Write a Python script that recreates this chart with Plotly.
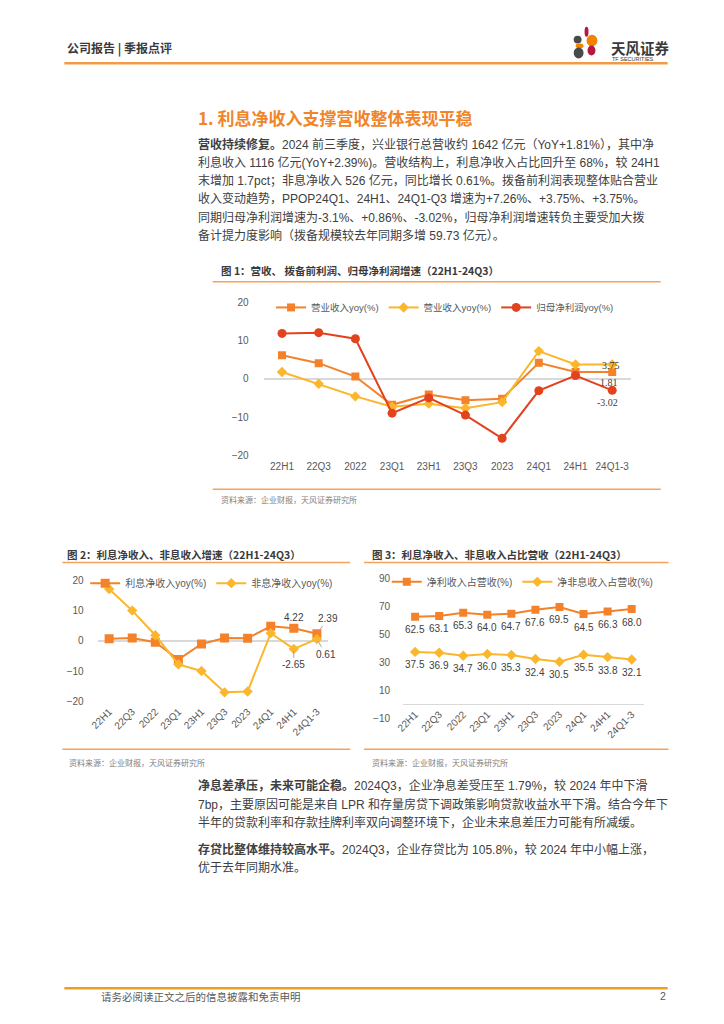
import plotly.graph_objects as go

W, H = 724, 1024
def px(x): return x / W
def py(y): return 1 - y / H

# ---------------- data ----------------
cats = ["22H1", "22Q3", "2022", "23Q1", "23H1", "23Q3", "2023", "24Q1", "24H1", "24Q1-3"]
# chart 1
rev_yoy = [6.2, 4.1, 0.6, -6.8, -4.1, -5.6, -5.2, 4.2, 1.81, 1.81]
ppop_yoy = [1.8, -1.3, -4.6, -7.3, -6.5, -7.7, -6.1, 7.26, 3.75, 3.75]
np_yoy = [11.9, 12.1, 10.5, -9.0, -5.0, -9.5, -15.6, -3.1, 0.86, -3.02]
c1_names = ["营业收入yoy(%)", "营业收入yoy(%)", "归母净利润yoy(%)"]
# chart 2
nii_yoy = [0.7, 1.0, -0.4, -6.2, -1.0, 1.0, 0.9, 4.9, 4.22, 2.39]
nonii_yoy = [17.3, 10.1, 1.9, -7.8, -10.0, -17.1, -16.8, 2.6, -2.65, 0.61]
c2_names = ["利息净收入yoy(%)", "非息净收入yoy(%)"]
# chart 3
nii_share = [62.5, 63.1, 65.3, 64.0, 64.7, 67.6, 69.5, 64.5, 66.3, 68.0]
nonii_share = [37.5, 36.9, 34.7, 36.0, 35.3, 32.4, 30.5, 35.5, 33.8, 32.1]
c3_names = ["净利收入占营收(%)", "净非息收入占营收(%)"]

ticks_c12 = [-20, -10, 0, 10, 20]
ticks_c3 = [-10, 10, 30, 50, 70, 90]

ORANGE = "#F4822A"
YELLOW = "#FBB62B"
RED = "#E2431E"
FRAME = "#F5A25D"
TXT = "#404040"
TICK = "#595959"
SANS = "Liberation Sans, Noto Sans CJK SC"
CJK = "Noto Sans CJK SC"
BODY = "Liberation Sans, Noto Sans CJK SC"

fig = go.Figure()

# ---------------- chart 1 ----------------
fig.add_trace(go.Scatter(x=cats, y=rev_yoy, name=c1_names[0], mode="lines+markers",
                         line=dict(color=ORANGE, width=2), marker=dict(symbol="square", size=8, color=ORANGE),
                         xaxis="x", yaxis="y", legend="legend"))
fig.add_trace(go.Scatter(x=cats, y=ppop_yoy, name=c1_names[1], mode="lines+markers",
                         line=dict(color=YELLOW, width=2), marker=dict(symbol="diamond", size=8, color=YELLOW),
                         xaxis="x", yaxis="y", legend="legend"))
fig.add_trace(go.Scatter(x=cats, y=np_yoy, name=c1_names[2], mode="lines+markers",
                         line=dict(color=RED, width=2), marker=dict(symbol="circle", size=9, color=RED),
                         xaxis="x", yaxis="y", legend="legend"))

# ---------------- chart 2 ----------------
fig.add_trace(go.Scatter(x=cats, y=nii_yoy, name=c2_names[0], mode="lines+markers",
                         line=dict(color=ORANGE, width=2), marker=dict(symbol="square", size=9, color=ORANGE),
                         xaxis="x2", yaxis="y2", legend="legend2"))
fig.add_trace(go.Scatter(x=cats, y=nonii_yoy, name=c2_names[1], mode="lines+markers",
                         line=dict(color=YELLOW, width=2), marker=dict(symbol="diamond", size=8, color=YELLOW),
                         xaxis="x2", yaxis="y2", legend="legend2"))

# ---------------- chart 3 ----------------
fig.add_trace(go.Scatter(x=cats, y=nii_share, name=c3_names[0], mode="lines+markers",
                         line=dict(color=ORANGE, width=2), marker=dict(symbol="square", size=8, color=ORANGE),
                         xaxis="x3", yaxis="y3", legend="legend3"))
fig.add_trace(go.Scatter(x=cats, y=nonii_share, name=c3_names[1], mode="lines+markers",
                         line=dict(color=YELLOW, width=2), marker=dict(symbol="diamond", size=8, color=YELLOW),
                         xaxis="x3", yaxis="y3", legend="legend3"))

tickfont = dict(size=10, color=TICK, family=SANS)
common_x = dict(type="category", categoryorder="array", categoryarray=cats, range=[-0.5, 9.5],
                showgrid=False, zeroline=False, showline=False, ticks="", tickfont=tickfont, fixedrange=True)
common_y = dict(showgrid=False, zeroline=True, zerolinecolor="#D9D9D9", zerolinewidth=1.5,
                showline=False, ticks="", tickfont=tickfont, fixedrange=True)

annotations = []
shapes = []

def text(x, y, s, size=12, color=TXT, family=CJK, anchor="left", yanchor="middle"):
    annotations.append(dict(x=px(x), y=py(y), xref="paper", yref="paper", text=s, showarrow=False,
                            xanchor=anchor, yanchor=yanchor, font=dict(size=size, color=color, family=family)))

def hline(x0, x1, y, color=FRAME, width=1.5):
    shapes.append(dict(type="line", xref="paper", yref="paper", x0=px(x0), x1=px(x1), y0=py(y), y1=py(y),
                       line=dict(color=color, width=width)))

# chart 1 data labels (last category, index 9)
lab1 = dict(size=10, color=TXT, family="Liberation Serif")
annotations.append(dict(x=9, y=ppop_yoy[9], xref="x", yref="y", text=f"{ppop_yoy[9]:.2f}",
                        showarrow=False, xshift=-1, yshift=-1, font=lab1))
annotations.append(dict(x=9, y=rev_yoy[9], xref="x", yref="y", text=f"{rev_yoy[9]:.2f}",
                        showarrow=False, xshift=-3, yshift=-11, font=lab1))
annotations.append(dict(x=9, y=np_yoy[9], xref="x", yref="y", text=f"{np_yoy[9]:.2f}",
                        showarrow=False, xshift=-5, yshift=-12, font=lab1))
# chart 2 data labels
lab2 = dict(size=10, color=TXT, family=SANS)
annotations.append(dict(x=8, y=nii_yoy[8], xref="x2", yref="y2", text=f"{nii_yoy[8]:.2f}",
                        showarrow=False, yshift=11, font=lab2))
annotations.append(dict(x=9, y=nii_yoy[9], xref="x2", yref="y2", text=f"{nii_yoy[9]:.2f}",
                        showarrow=True, arrowhead=0, arrowwidth=1, arrowcolor="#A6A6A6", ax=11, ay=-15,
                        standoff=3, font=lab2))
annotations.append(dict(x=8, y=nonii_yoy[8], xref="x2", yref="y2", text=f"{nonii_yoy[8]:.2f}",
                        showarrow=True, arrowhead=0, arrowwidth=1, arrowcolor="#A6A6A6", ax=0, ay=16,
                        standoff=2, font=lab2))
annotations.append(dict(x=9, y=nonii_yoy[9], xref="x2", yref="y2", text=f"{nonii_yoy[9]:.2f}",
                        showarrow=True, arrowhead=0, arrowwidth=1, arrowcolor="#A6A6A6", ax=9, ay=15,
                        standoff=2, font=lab2))
# chart 3 data labels (below each point)
for i, v in enumerate(nii_share):
    annotations.append(dict(x=i, y=v, xref="x3", yref="y3", text=f"{v:.1f}", showarrow=False,
                            yshift=-13, font=lab2))
for i, v in enumerate(nonii_share):
    annotations.append(dict(x=i, y=v, xref="x3", yref="y3", text=f"{v:.1f}", showarrow=False,
                            yshift=-13, font=lab2))

# ---------------- page furniture ----------------
text(58, 43, "<b>公司报告 | 季报点评</b>", size=12, color="#3A3A3A")
hline(57, 667, 58, color="#F39A46", width=2.5)
text(608, 42, "<b>天风证券</b>", size=14.5, color="#3A3A3A")
text(609, 53.5, "TF SECURITIES", size=5.5, color="#3A3A3A", family="Liberation Sans")
# logo petals
petals = [
    (583, 587, 21, 31, "#B5173F"),
    (585, 596, 29, 41, "#F08300"),
    (572, 580, 30, 38, "#4A4A4A"),
    (574, 582, 38, 43, "#F08300"),
    (586, 594, 40, 50, "#B5173F"),
    (572, 582, 42, 53, "#4A4A4A"),
]
for x0, x1, y0, y1, c in petals:
    shapes.append(dict(type="circle", xref="paper", yref="paper", x0=px(x0), x1=px(x1), y0=py(y1), y1=py(y0),
                       fillcolor=c, line=dict(width=0)))

text(190, 113, "<b>1. 利息净收入支撑营收整体表现平稳</b>", size=17, color="#F0852A")

para1 = [
    "<b>营收持续修复。</b>2024 前三季度，兴业银行总营收约 1642 亿元（YoY+1.81%），其中净",
    "利息收入 1116 亿元(YoY+2.39%)。营收结构上，利息净收入占比回升至 68%，较 24H1",
    "末增加 1.7pct；非息净收入 526 亿元，同比增长 0.61%。拨备前利润表现整体贴合营业",
    "收入变动趋势，PPOP24Q1、24H1、24Q1-Q3 增速为+7.26%、+3.75%、+3.75%。",
    "同期归母净利润增速为-3.1%、+0.86%、-3.02%，归母净利润增速转负主要受加大拨",
    "备计提力度影响（拨备规模较去年同期多增 59.73 亿元）。",
]
for i, s in enumerate(para1):
    text(190, 140 + i * 18.4, s, size=12, family=BODY)

# chart 1 frame
text(213, 268, "<b>图 1：营收、 拨备前利润、归母净利润增速（22H1-24Q3）</b>", size=10.5, color="#3A3A3A")
hline(207, 660, 279)
hline(207, 660, 489)
text(213, 499, "资料来源：企业财报，天风证券研究所", size=8, color="#7F7F7F")

# chart 2 / 3 frames
text(58, 555, "<b>图 2：利息净收入、非息收入增速（22H1-24Q3）</b>", size=10.5, color="#3A3A3A")
hline(55, 346, 563)
hline(55, 346, 752)
text(60, 765, "资料来源：企业财报，天风证券研究所", size=8, color="#7F7F7F")
text(366, 555, "<b>图 3：利息净收入、非息收入占比营收（22H1-24Q3）</b>", size=10.5, color="#3A3A3A")
hline(360, 668, 563)
hline(360, 668, 752)
text(366, 765, "资料来源：企业财报，天风证券研究所", size=8, color="#7F7F7F")

para2 = [
    "<b>净息差承压，未来可能企稳。</b>2024Q3，企业净息差受压至 1.79%，较 2024 年中下滑",
    "7bp，主要原因可能是来自 LPR 和存量房贷下调政策影响贷款收益水平下滑。结合今年下",
    "半年的贷款利率和存款挂牌利率双向调整环境下，企业未来息差压力可能有所减缓。",
]
for i, s in enumerate(para2):
    text(190, 789 + i * 18.8, s, size=12, family=BODY)
para3 = [
    "<b>存贷比整体维持较高水平。</b>2024Q3，企业存贷比为 105.8%，较 2024 年中小幅上涨，",
    "优于去年同期水准。",
]
for i, s in enumerate(para3):
    text(190, 853 + i * 18.8, s, size=12, family=BODY)

hline(57, 667, 994, color="#EE9F22", width=2.5)
text(92, 1002, "请务必阅读正文之后的信息披露和免责申明", size=10.5, color="#595959")
text(667, 1002, "2", size=10.5, color="#595959", family="Liberation Sans", anchor="right")

def legend_at(x, y, size):
    return dict(orientation="h", x=px(x), y=py(y), xanchor="left", yanchor="middle",
                font=dict(size=size, color=TICK, family=SANS), bgcolor="rgba(0,0,0,0)",
                itemclick=False, itemdoubleclick=False)

fig.update_layout(
    width=W, height=H, autosize=False,
    margin=dict(l=0, r=0, t=0, b=0),
    paper_bgcolor="white", plot_bgcolor="white",
    showlegend=True,
    xaxis=dict(common_x, domain=[px(258.5), px(629.5)], anchor="y", ticklabelstandoff=4),
    yaxis=dict(common_y, domain=[py(454.5), py(300)], range=[-20, 20], tickvals=ticks_c12,
               anchor="x", ticklabelstandoff=14),
    xaxis2=dict(common_x, domain=[px(90.6), px(324)], anchor="y2", tickangle=-45, ticklabelstandoff=2),
    yaxis2=dict(common_y, domain=[py(703.3), py(581.7)], range=[-20, 20], tickvals=ticks_c12,
                anchor="x2", ticklabelstandoff=13),
    xaxis3=dict(common_x, domain=[px(399.5), px(642.8)], anchor="free", position=py(706),
                tickangle=-45, ticklabelstandoff=2),
    yaxis3=dict(common_y, domain=[py(721), py(579)], range=[-10, 90], tickvals=ticks_c3,
                anchor="x3", ticklabelstandoff=12),
    legend=legend_at(266, 305, 9.5),
    legend2=legend_at(78, 584, 10),
    legend3=legend_at(383, 582.7, 10),
    annotations=annotations,
    shapes=shapes,
    hovermode=False,
)

# remove the browser's default 8px body margin so the figure sits at the page origin
fig.write_html("out.html", config={"displayModeBar": False, "staticPlot": True},
               post_script="document.body.style.margin='0px';")
